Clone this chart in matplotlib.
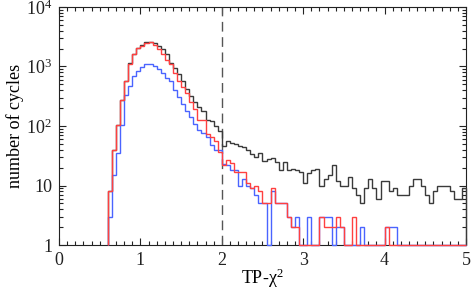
import numpy as np
import matplotlib.pyplot as plt
from matplotlib.ticker import MultipleLocator, LogLocator, FixedLocator, FixedFormatter, NullFormatter

plt.rcParams['font.family'] = 'Liberation Serif'
plt.rcParams['mathtext.fontset'] = 'custom'
plt.rcParams['mathtext.rm'] = 'Liberation Serif'
plt.rcParams['mathtext.it'] = 'Liberation Serif:italic'

# histogram bins: 0.6 .. 5.0, width 0.05
bin_start = 0.6
bin_width = 0.05
n_bins = 88

black_counts = [
    8, 40, 102, 270, 580, 1130, 1650, 2080, 2300, 2550,
    2600, 2450, 2250, 1950, 1600, 1150, 930, 740, 570, 420,
    315, 255, 210, 182, 128, 122, 100, 82, 47, 56,
    52, 50, 47, 44, 39, 34, 30, 35, 26, 28,
    29, 25, 18, 25, 18, 19, 18, 17, 11, 16,
    18, 19, 10, 13, 15, 22, 12, 10, 10, 14,
    9, 7, 5, 9, 13, 9, 6, 12, 12, 8,
    9, 7, 7, 7, 10, 13, 13, 10, 7, 5,
    8, 10, 10, 10, 8, 6, 6, 9,
]
red_counts = [
    8, 40, 102, 270, 575, 1120, 1630, 2040, 2250, 2500,
    2550, 2300, 2000, 1650, 1300, 1100, 780, 560, 460, 354,
    252, 195, 125, 125, 72, 65, 55, 37, 22, 27,
    24, 17, 17, 17, 11, 9, 10, 8, 5, 5,
    9, 5, 5, 5, 3, 2, 2, 0, 0, 0,
    1, 0, 3, 2, 2, 2, 3, 2, 0, 0,
    3, 0, 0, 0, 0, 0, 0, 0, 2, 0,
    0, 0, 0, 0, 0, 0, 0, 0, 0, 0,
    0, 0, 0, 0, 0, 0, 0, 0,
]
blue_counts = [
    3, 15, 35, 102, 330, 470, 690, 830, 980, 1120,
    1120, 1020, 890, 780, 650, 560, 400, 310, 235, 182,
    139, 107, 87, 76, 65, 48, 40, 40, 23, 22,
    18, 18, 10, 13, 10, 9, 7, 5, 5, 0,
    8, 5, 5, 5, 3, 2, 3, 0, 0, 3,
    0, 0, 3, 3, 3, 0, 2, 2, 0, 0,
    0, 0, 2, 0, 0, 0, 0, 0, 2, 2,
    2, 0, 0, 0, 0, 0, 0, 0, 0, 0,
    0, 0, 0, 0, 0, 0, 0, 0,
]

edges = bin_start + bin_width * np.arange(n_bins + 1)

fig = plt.figure(figsize=(4.71, 2.90), dpi=100)
ax = fig.add_axes([0.1253, 0.155, 0.864, 0.821])

for counts, col in [(black_counts, '#3a3a3a'), (blue_counts, '#4a64ff'), (red_counts, '#ff4040')]:
    vals = np.maximum(np.array(counts, dtype=float), 1)
    ax.stairs(vals, edges, baseline=1, color=col, lw=1, zorder=3, clip_on=False)

ax.axvline(2, color='#555555', lw=1, dashes=(7, 4), zorder=2)

ax.set_yscale('log')
ax.set_xlim(0, 5)
ax.set_ylim(1, 1e4)

ax.xaxis.set_major_locator(MultipleLocator(1))
ax.xaxis.set_minor_locator(MultipleLocator(0.1))
ax.yaxis.set_major_locator(FixedLocator([1, 10, 100, 1000, 10000]))
ax.yaxis.set_major_formatter(FixedFormatter(['1', '10', '$10^2$', '$10^3$', '$10^4$']))
ax.yaxis.set_minor_locator(LogLocator(base=10, subs=np.arange(2, 10)))
ax.yaxis.set_minor_formatter(NullFormatter())

ax.tick_params(which='both', direction='in', top=True, right=True,
               labelsize=13, colors='#222222', width=0.8)
ax.tick_params(which='major', length=5, pad=5)
ax.tick_params(which='minor', length=3)
for sp in ax.spines.values():
    sp.set_linewidth(0.8)
    sp.set_color('#222222')

ax.set_xlabel('TP-χ$^2$', fontsize=13, labelpad=-2)
ax.set_ylabel('number of cycles', fontsize=13, labelpad=1)

fig.savefig('out.png', dpi=100)
